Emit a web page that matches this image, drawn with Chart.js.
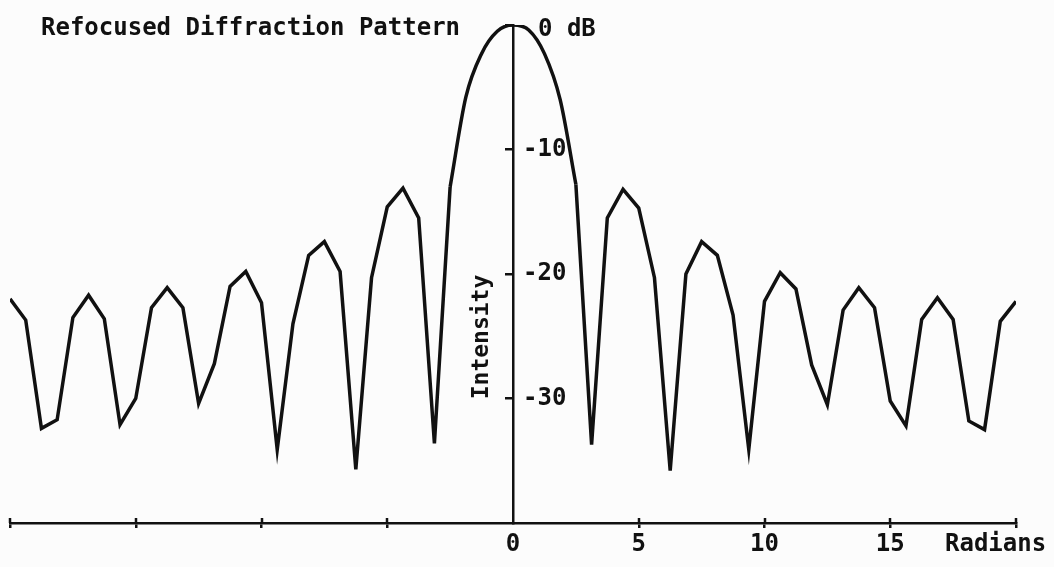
<!DOCTYPE html>
<html lang="en">
<head>
  <meta charset="UTF-8">
  <title>Refocused Diffraction Pattern</title>
  <style>
    * {
      margin: 0;
      padding: 0;
      box-sizing: border-box;
    }

    body {
      background-color: #fcfcfc;
      width: 1054px;
      height: 567px;
      overflow: hidden;
    }

    canvas {
      display: block;
    }
  </style>
  <script src="https://cdn.jsdelivr.net/npm/chart.js"></script>
</head>
<body>
  <canvas id="patternChart" width="1054" height="567"></canvas>

  <script>
    // Sample positions along the axis (radians)
    const radians = [
      -20, -19.375, -18.75, -18.125, -17.5, -16.875, -16.25, -15.625,
      -15, -14.375, -13.75, -13.125, -12.5, -11.875, -11.25, -10.625,
      -10, -9.375, -8.75, -8.125, -7.5, -6.875, -6.25, -5.625,
      -5, -4.375, -3.75, -3.125, -2.5, -1.875, -1.25, -0.625,
      0,
      0.625, 1.25, 1.875, 2.5, 3.125, 3.75, 4.375, 5,
      5.625, 6.25, 6.875, 7.5, 8.125, 8.75, 9.375, 10,
      10.625, 11.25, 11.875, 12.5, 13.125, 13.75, 14.375, 15,
      15.625, 16.25, 16.875, 17.5, 18.125, 18.75, 19.375, 20
    ];

    // Intensity (dB)
    const intensity = [
      -22.0, -23.7, -32.4, -31.7, -23.5, -21.7, -23.6, -32.1,
      -30.0, -22.7, -21.1, -22.7, -30.4, -27.2, -21.0, -19.8,
      -22.3, -34.1, -24.0, -18.5, -17.4, -19.8, -35.7, -20.3,
      -14.6, -13.1, -15.5, -33.6, -13.0, -5.8, -2.3, -0.5,
      0,
      -0.4, -2.3, -6.0, -12.8, -33.7, -15.5, -13.2, -14.7,
      -20.3, -35.8, -20.0, -17.4, -18.5, -23.3, -34.1, -22.2,
      -19.9, -21.2, -27.3, -30.5, -22.9, -21.1, -22.7, -30.2,
      -32.2, -23.65, -21.9, -23.65, -31.8, -32.5, -23.8, -22.2
    ];

    // main lobe is drawn as a smooth curve, side lobes as straight segments
    const lobeStart = 28;
    const lobeEnd = 36;

    const xLabels = [0, 5, 10, 15];
    const yTickValues = [0, -10, -20, -30];
    const yTickLabels = ['0 dB', '-10', '-20', '-30'];

    const chartTitle = 'Refocused Diffraction Pattern';
    const xTitle = 'Radians';
    const yTitle = 'Intensity';

    const ink = '#111';
    const labelFont = 'bold 24px "DejaVu Sans Mono", "Liberation Mono", monospace';

    function points(from, to) {
      const out = [];
      for (let i = from; i <= to; i++) {
        out.push({ x: radians[i], y: intensity[i] });
      }
      return out;
    }

    const lineStyle = {
      borderColor: ink,
      borderWidth: 3.5,
      pointRadius: 0,
      fill: false,
      borderJoinStyle: 'miter'
    };

    // Text that sits around the axes, plus the upper half of the x tick marks
    const annotations = {
      id: 'annotations',
      afterDraw(chart) {
        const ctx = chart.ctx;
        const x = chart.scales.x;
        const y = chart.scales.y;
        const axisX = x.getPixelForValue(0);
        const axisY = chart.chartArea.bottom;

        ctx.save();
        ctx.strokeStyle = ink;
        ctx.lineWidth = 2.5;
        x.ticks.forEach((t) => {
          if (t.value === 0) return;
          const px = Math.round(x.getPixelForValue(t.value));
          ctx.beginPath();
          ctx.moveTo(px, axisY - 5);
          ctx.lineTo(px, axisY);
          ctx.stroke();
        });

        ctx.fillStyle = ink;
        ctx.font = labelFont;
        ctx.textBaseline = 'middle';

        ctx.textAlign = 'left';
        ctx.fillText(chartTitle, 41, 29);

        yTickValues.forEach((v, i) => {
          const label = yTickLabels[i];
          const py = Math.max(y.getPixelForValue(v), 30);
          const px = label.startsWith('-') ? axisX + 10 : axisX + 25;
          ctx.fillText(label, px, py);
        });

        ctx.fillText(xTitle, 945, 545);

        ctx.translate(482, 337);
        ctx.rotate(-Math.PI / 2);
        ctx.textAlign = 'center';
        ctx.font = 'bold 23px "DejaVu Sans Mono", "Liberation Mono", monospace';
        ctx.fillText(yTitle, 0, 0);
        ctx.restore();
      }
    };

    const ctx = document.getElementById('patternChart').getContext('2d');

    new Chart(ctx, {
      type: 'line',
      data: {
        datasets: [
          Object.assign({ data: points(0, lobeStart), tension: 0 }, lineStyle),
          Object.assign({ data: points(lobeStart, lobeEnd), cubicInterpolationMode: 'monotone' }, lineStyle),
          Object.assign({ data: points(lobeEnd, radians.length - 1), tension: 0 }, lineStyle)
        ]
      },
      options: {
        responsive: false,
        animation: false,
        events: [],
        layout: {
          padding: { left: 10, right: 38, top: 25, bottom: 0 }
        },
        plugins: {
          legend: { display: false },
          tooltip: { enabled: false },
          title: { display: false }
        },
        scales: {
          x: {
            type: 'linear',
            min: -20,
            max: 20,
            afterFit(scale) {
              scale.height = 44;
              scale.paddingLeft = 0;
              scale.paddingRight = 0;
            },
            border: { display: true, color: ink, width: 2.5 },
            grid: {
              drawOnChartArea: false,
              drawTicks: true,
              tickLength: 5,
              lineWidth: 2.5,
              color: (c) => c.tick && c.tick.value === 0 ? 'rgba(0,0,0,0)' : ink
            },
            ticks: {
              stepSize: 5,
              autoSkip: false,
              maxRotation: 0,
              padding: 2,
              color: ink,
              font: { family: '"DejaVu Sans Mono", "Liberation Mono", monospace', size: 24, weight: 'bold' },
              callback: (v) => xLabels.includes(v) ? String(v) : ''
            }
          },
          y: {
            type: 'linear',
            min: -40,
            max: 0,
            position: { x: 0 },
            afterFit(scale) {
              scale.width = 0;
            },
            border: { display: true, color: ink, width: 2.5 },
            grid: {
              drawOnChartArea: false,
              drawTicks: true,
              tickLength: 7,
              lineWidth: 2.5,
              color: (c) => c.tick && c.tick.value === -40 ? 'rgba(0,0,0,0)' : ink
            },
            ticks: { display: false, stepSize: 10 }
          }
        }
      },
      plugins: [annotations]
    });
  </script>
</body>
</html>
